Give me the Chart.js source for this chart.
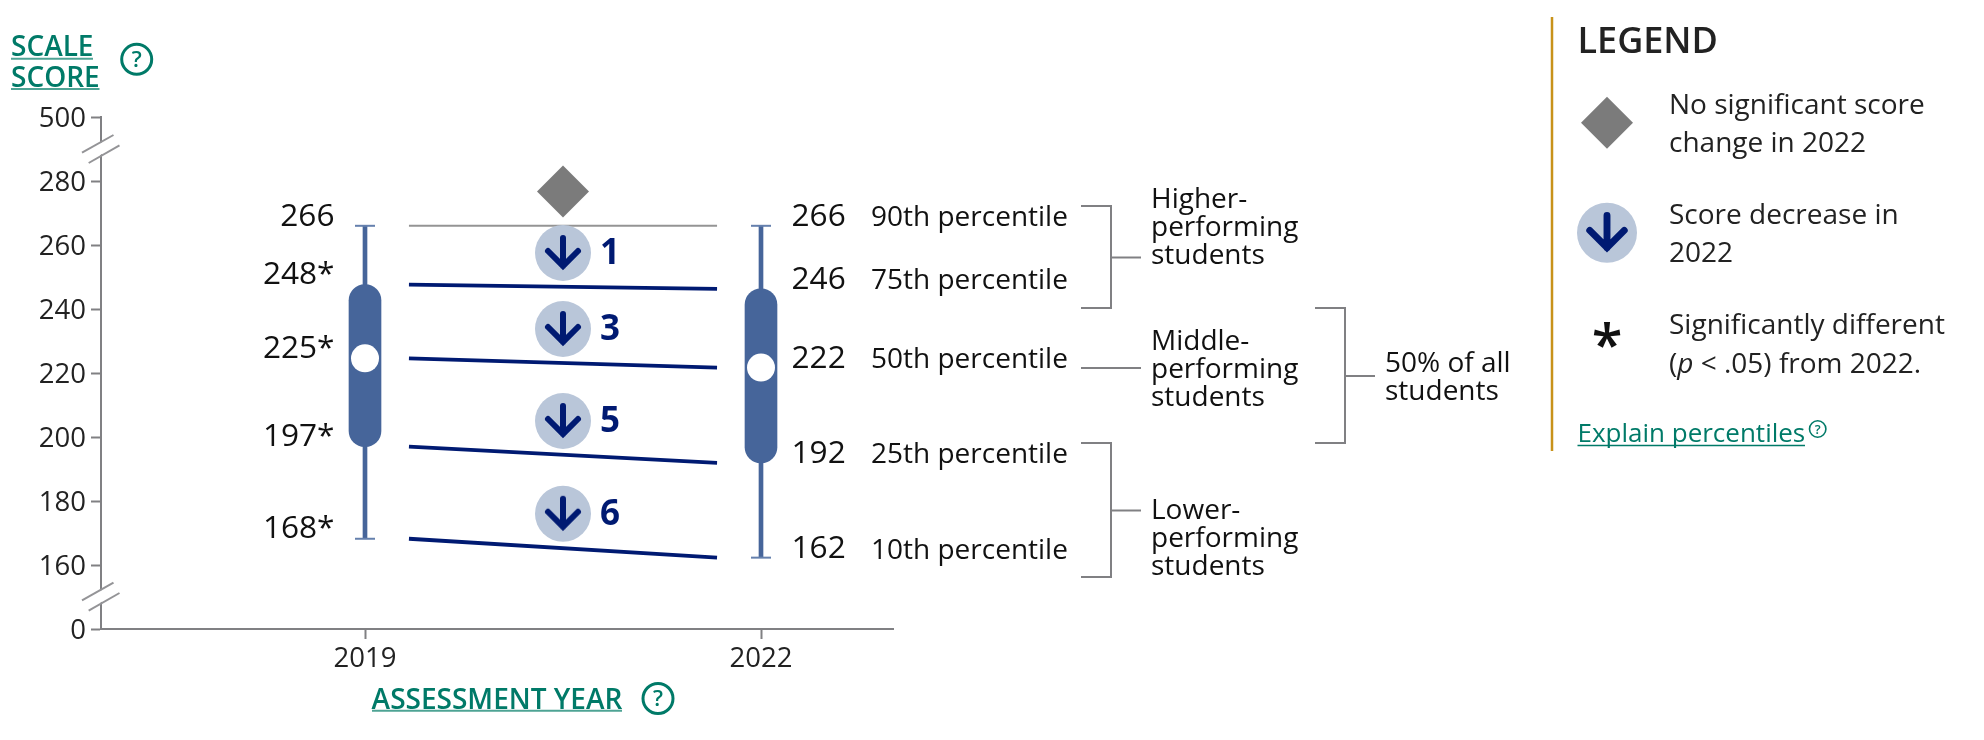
<!DOCTYPE html>
<html><head><meta charset="utf-8">
<style>html,body{margin:0;padding:0;background:#fff}canvas{display:block}</style>
<script src="https://cdn.jsdelivr.net/npm/chart.js@4/dist/chart.umd.js"></script>
</head><body><canvas id="c" width="1984" height="740"></canvas>
<script>
// ---- data ----
const years = [2019, 2022];
const xTicks = [2019, 2022];
const p90 = [266, 266];
const p75 = [247.6, 246.3];
const p50 = [224.6, 221.7];
const p25 = [197, 191.9];
const p10 = [168.2, 162.3];
const stars2019 = ['', '*', '*', '*', '*'];
const percentileNames = ['90th percentile', '75th percentile', '50th percentile', '25th percentile', '10th percentile'];
const connectorX = [2019.333, 2021.667];
const markerX = 2020.5;
const diamondY = [276.7];
const decreaseY = [257.5, 233.75, 205, 176];
const decreaseLabels = ['1', '3', '5', '6'];
const axisEnds = {140: '0', 300: '500'};

// ---- styles ----
const FONT = '"Open Sans"', NAVY = '#001a72', BLUE = '#46659a', CAP = '#6580ad', HALO = '#b9c6d9',
      DIAMOND = '#7b7b7b', AXIS = '#808083', TEAL = '#007a68', INK = '#222222';
const leftY = [216.5, 274.5, 348.5, 437, 528.8];
const rightY = [217.3, 279.6, 359.3, 454.3, 549];
const nameY = [218, 281, 360.5, 455.5, 551];

function drawArrow(ctx, cx, cy, k) {
  ctx.save();
  ctx.strokeStyle = NAVY; ctx.lineWidth = 6 * k; ctx.lineCap = 'round'; ctx.lineJoin = 'miter';
  ctx.beginPath();
  ctx.moveTo(cx, cy - 15 * k); ctx.lineTo(cx, cy + 13 * k);
  ctx.moveTo(cx - 15 * k, cy - 2 * k); ctx.lineTo(cx, cy + 13 * k); ctx.lineTo(cx + 15 * k, cy - 2 * k);
  ctx.stroke();
  ctx.restore();
}
const arrowIcon = document.createElement('canvas');
arrowIcon.width = 56; arrowIcon.height = 56;
drawArrow(arrowIcon.getContext('2d'), 28, 28, 1);

function xy(xs, ys) { return xs.map((x, i) => ({x, y: ys[i]})); }
function connector(vals, color, w) {
  return {type: 'line', data: xy(connectorX, vals), borderColor: color, borderWidth: w, pointRadius: 0, order: 6};
}
function text(ctx, s, x, y, font, color, align) {
  ctx.font = font; ctx.fillStyle = color; ctx.textAlign = align || 'left'; ctx.textBaseline = 'middle';
  ctx.fillText(s, x, y);
}
function seg(ctx, pts, color, w) {
  ctx.strokeStyle = color; ctx.lineWidth = w; ctx.lineCap = 'butt'; ctx.lineJoin = 'miter';
  ctx.beginPath(); pts.forEach((p, i) => i ? ctx.lineTo(p[0], p[1]) : ctx.moveTo(p[0], p[1])); ctx.stroke();
}
function help(ctx, x, y, r, w, size) {
  ctx.strokeStyle = TEAL; ctx.lineWidth = w;
  ctx.beginPath(); ctx.arc(x, y, r, 0, Math.PI * 2); ctx.stroke();
  text(ctx, '?', x, y + 1, '600 ' + size + 'px ' + FONT, TEAL, 'center');
}
function axisBreak(ctx, dy) {
  ctx.fillStyle = '#fff';
  ctx.beginPath();
  ctx.moveTo(95, 146 + dy); ctx.lineTo(106, 140 + dy); ctx.lineTo(106, 151 + dy); ctx.lineTo(95, 159 + dy);
  ctx.fill();
  seg(ctx, [[82, 152.7 + dy], [113.5, 135 + dy]], '#949497', 2);
  seg(ctx, [[88.7, 163 + dy], [119.5, 145.3 + dy]], '#949497', 2);
}

const overlay = {
  id: 'overlay',
  afterDraw(chart) {
    const ctx = chart.ctx, X = chart.scales.x, Y = chart.scales.y;
    ctx.save();
    axisBreak(ctx, 0); axisBreak(ctx, 447.7);

    // value labels & percentile names
    const valueFont = '31.6px ' + FONT;
    [p90, p75, p50, p25, p10].forEach((vals, i) => {
      text(ctx, Math.round(vals[0]) + stars2019[i], X.getPixelForValue(years[0]) - 30.5, leftY[i], valueFont, '#111', 'right');
      text(ctx, String(Math.round(vals[1])), X.getPixelForValue(years[1]) + 30.5, rightY[i], valueFont, '#111');
      text(ctx, percentileNames[i], 871, nameY[i], '28px ' + FONT, '#111');
    });
    decreaseLabels.forEach((s, i) => {
      text(ctx, s, X.getPixelForValue(markerX) + 37, Y.getPixelForValue(decreaseY[i]) + 1.5, '700 35px ' + FONT, NAVY);
    });

    // brackets
    seg(ctx, [[1081, 206], [1111, 206], [1111, 308], [1081, 308]], AXIS, 2);
    seg(ctx, [[1111, 257.5], [1141, 257.5]], AXIS, 2);
    seg(ctx, [[1081, 368], [1141, 368]], AXIS, 2);
    seg(ctx, [[1081, 443], [1111, 443], [1111, 577], [1081, 577]], AXIS, 2);
    seg(ctx, [[1111, 510.5], [1141, 510.5]], AXIS, 2);
    seg(ctx, [[1315, 308], [1345, 308], [1345, 443], [1315, 443]], AXIS, 2);
    seg(ctx, [[1345, 376], [1375, 376]], AXIS, 2);
    const gf = '28px ' + FONT;
    [['Higher-', 200], ['performing', 228], ['students', 256],
     ['Middle-', 342], ['performing', 370], ['students', 398],
     ['Lower-', 511], ['performing', 539], ['students', 567]].forEach(t => text(ctx, t[0], 1151, t[1], gf, '#111'));
    text(ctx, '50% of all', 1385, 364.3, gf, '#111');
    text(ctx, 'students', 1385, 392.3, gf, '#111');

    // axis titles
    const tf = '600 28px ' + FONT;
    text(ctx, 'SCALE', 11, 48, tf, TEAL);
    text(ctx, 'SCORE', 11, 79, tf, TEAL);
    seg(ctx, [[11, 58.8], [93, 58.8]], '#4ea394', 2);
    seg(ctx, [[11, 89], [99.5, 89]], '#4ea394', 2);
    help(ctx, 136.7, 59.3, 15, 3, 22);
    seg(ctx, [[372, 710.7], [622, 710.7]], '#4ea394', 2);
    help(ctx, 658, 698.5, 15, 3, 22);

    // legend panel
    seg(ctx, [[1552, 17], [1552, 451]], '#c8921a', 2.5);
    text(ctx, 'LEGEND', 1577.5, 43, '600 36px ' + FONT, INK);
    ctx.fillStyle = DIAMOND;
    ctx.beginPath(); ctx.moveTo(1607, 96.7); ctx.lineTo(1633, 122.7); ctx.lineTo(1607, 148.7); ctx.lineTo(1581, 122.7); ctx.fill();
    ctx.fillStyle = HALO;
    ctx.beginPath(); ctx.arc(1607, 232.7, 30, 0, Math.PI * 2); ctx.fill();
    drawArrow(ctx, 1607, 232.7, 1.15);
    text(ctx, '*', 1607, 348, '600 56px ' + FONT, '#111', 'center');
    const lf = '28px ' + FONT;
    [['No significant score', 106.5], ['change in 2022', 144.5], ['Score decrease in', 216.5], ['2022', 254.5], ['Significantly different', 326.5]]
      .forEach(t => text(ctx, t[0], 1669, t[1], lf, INK));
    text(ctx, '(', 1669, 365.5, lf, INK);
    let w = ctx.measureText('(').width;
    text(ctx, 'p', 1669 + w, 365.5, 'italic ' + lf, INK);
    w += ctx.measureText('p').width;
    text(ctx, ' < .05) from 2022.', 1669 + w, 365.5, lf, INK);
    text(ctx, 'Explain percentiles', 1577.5, 435, '26px ' + FONT, TEAL);
    seg(ctx, [[1577.5, 445.5], [1805, 445.5]], TEAL, 1.5);
    help(ctx, 1817.7, 429, 8.2, 1.6, 13);
    ctx.restore();
  }
};

new Chart(document.getElementById('c'), {
  data: {
    datasets: [
      {type: 'bar', data: xy(years, [[p10[0], p90[0]], [p10[1], p90[1]]]), backgroundColor: BLUE, barThickness: 4, grouped: false, order: 5},
      {type: 'bar', data: xy(years, [[p25[0], p75[0]], [p25[1], p75[1]]]), backgroundColor: BLUE, barThickness: 32,
       borderRadius: 16, borderSkipped: false, grouped: false, order: 4},
      {type: 'scatter', data: xy(years.concat(years), p90.concat(p10)), pointStyle: 'line', pointRadius: 10, pointBorderWidth: 2, pointBorderColor: CAP, order: 3},
      {type: 'scatter', data: xy(years, p50), pointStyle: 'circle', pointRadius: 14, pointBackgroundColor: '#fff', pointBorderWidth: 0, order: 3},
      connector(p90, '#949494', 2),
      connector(p75, NAVY, 3.8),
      connector(p50, NAVY, 3.8),
      connector(p25, NAVY, 3.8),
      connector(p10, NAVY, 3.8),
      {type: 'scatter', data: xy(diamondY.map(() => markerX), diamondY), pointStyle: 'rectRot', pointRadius: 26, pointBackgroundColor: DIAMOND, pointBorderWidth: 0, order: 2},
      {type: 'scatter', data: xy(decreaseY.map(() => markerX), decreaseY), pointStyle: 'circle', pointRadius: 28, pointBackgroundColor: HALO, pointBorderWidth: 0, order: 2},
      {type: 'scatter', data: xy(decreaseY.map(() => markerX), decreaseY), pointStyle: arrowIcon, pointRadius: 28, order: 1}
    ]
  },
  options: {
    responsive: false, animation: false, devicePixelRatio: 1,
    layout: {padding: {top: 117, right: 1091, left: 0, bottom: 0}},
    plugins: {legend: {display: false}, tooltip: {enabled: false}},
    scales: {
      x: {
        type: 'linear', min: 2017, max: 2023, offset: false,
        afterBuildTicks: s => { s.ticks = xTicks.map(value => ({value})); },
        afterFit: s => { s.height = 111; },
        grid: {offset: false, drawOnChartArea: false, drawTicks: true, tickLength: 10, tickColor: AXIS, tickWidth: 2},
        border: {color: AXIS, width: 2},
        ticks: {callback: v => String(v), autoSkip: false, maxRotation: 0, padding: 4, color: INK, font: {family: FONT, size: 27.5}},
        title: {display: true, text: 'ASSESSMENT YEAR', color: TEAL, font: {family: FONT, size: 28, weight: '600'}, padding: {top: 0, bottom: 22}}
      },
      y: {
        type: 'linear', min: 140, max: 300,
        afterFit: s => { s.width = 101; },
        grid: {drawOnChartArea: false, drawTicks: true, tickLength: 10, tickColor: AXIS, tickWidth: 2},
        border: {color: AXIS, width: 2},
        ticks: {stepSize: 20, padding: 5, labelOffset: 2.5, color: INK, font: {family: FONT, size: 27.5},
                callback: v => axisEnds[v] !== undefined ? axisEnds[v] : String(v)}
      }
    }
  },
  plugins: [overlay]
});
</script></body></html>
